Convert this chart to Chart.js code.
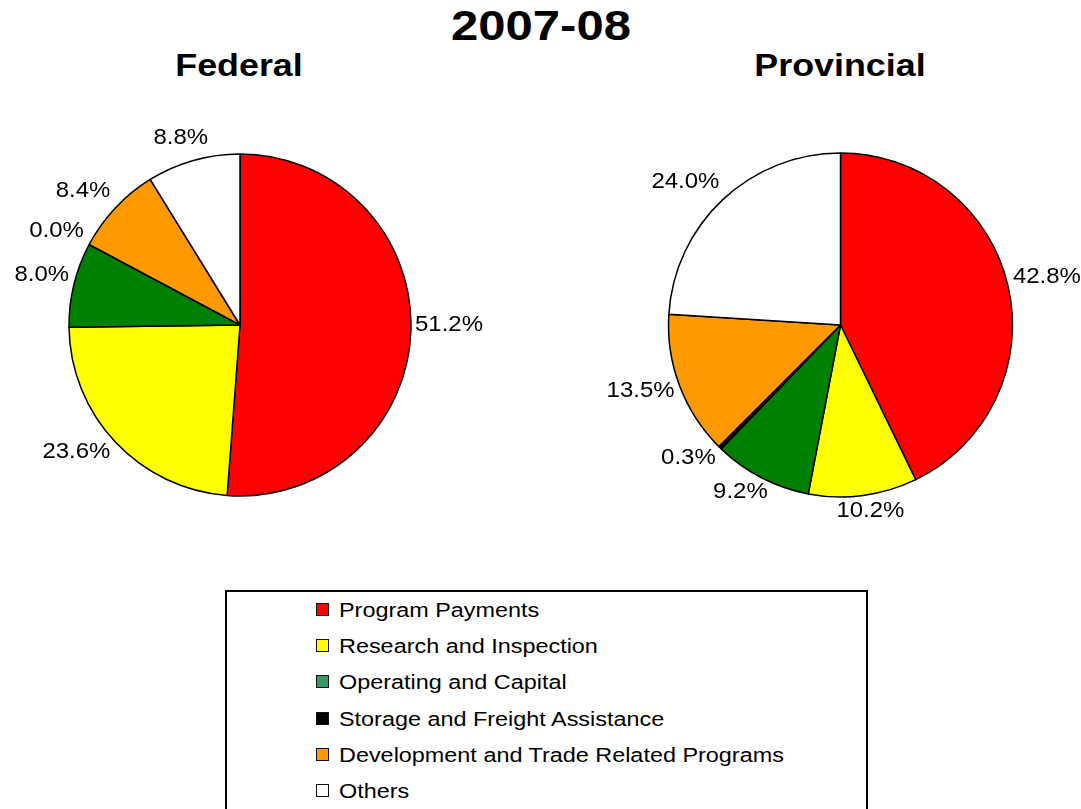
<!DOCTYPE html>
<html>
<head>
<meta charset="utf-8">
<title>2007-08</title>
<script src="https://cdn.jsdelivr.net/npm/chart.js@4/dist/chart.umd.min.js"></script>
<style>
  body { margin: 0; background: #fff; width: 1081px; height: 809px; overflow: hidden; position: relative;
         font-family: "Liberation Sans", Arial, sans-serif; color: #000; }
  .title { position: absolute; font-weight: bold; white-space: nowrap; line-height: 1; }
  canvas { position: absolute; }
  #legend { position: absolute; left: 225px; top: 590px; width: 639px; height: 260px; border: 2px solid #000; }
  #legend .swatch { position: absolute; left: 89px; width: 11px; height: 11px; border: 1.5px solid #111; }
  #legend .label { position: absolute; left: 112px; font-size: 20px; line-height: 20px; white-space: nowrap;
                   transform: scaleX(1.17); transform-origin: left center; }
</style>
</head>
<body>
<div class="title" style="left:541px; top:4px; font-size:43px; transform: translateX(-50%) scaleX(1.14);">2007-08</div>
<div class="title" style="left:239px; top:49px; font-size:32px; transform: translateX(-50%) scaleX(1.12);">Federal</div>
<div class="title" style="left:840px; top:49px; font-size:32px; transform: translateX(-50%) scaleX(1.12);">Provincial</div>

<canvas id="federal" width="560" height="460" style="left:0px; top:95px;"></canvas>
<canvas id="provincial" width="521" height="460" style="left:560px; top:95px;"></canvas>
<div id="legend"></div>

<script>
// categories and shares (%)
var categories = ['Program Payments', 'Research and Inspection', 'Operating and Capital',
                  'Storage and Freight Assistance', 'Development and Trade Related Programs', 'Others'];
var federalShares = [51.2, 23.6, 8.0, 0.0, 8.4, 8.8];
var provincialShares = [42.8, 10.2, 9.2, 0.3, 13.5, 24.0];

var sliceColors = ['#FF0000', '#FFFF00', '#008000', '#000000', '#FF9900', '#FFFFFF'];
var legendColors = ['#FF0000', '#FFFF00', '#339966', '#000000', '#FF9900', '#FFFFFF'];

var LABEL_FONT = '22px "Liberation Sans", Arial, sans-serif';
var LABEL_STRETCH = 1.09;

// percentage labels placed just outside each slice
var pctLabels = {
  id: 'pctLabels',
  afterDatasetsDraw: function(chart) {
    var ctx = chart.ctx;
    var meta = chart.getDatasetMeta(0);
    var values = chart.data.datasets[0].data;
    ctx.save();
    ctx.font = LABEL_FONT;
    ctx.fillStyle = '#000';
    ctx.textAlign = 'center';
    ctx.textBaseline = 'middle';
    meta.data.forEach(function(arc, i) {
      var p = arc.getProps(['x', 'y', 'startAngle', 'endAngle', 'outerRadius'], true);
      var mid = (p.startAngle + p.endAngle) / 2;
      var cos = Math.cos(mid), sin = Math.sin(mid);
      var text = values[i].toFixed(1) + '%';
      var w = ctx.measureText(text).width * LABEL_STRETCH;
      var h = 16;
      var r = p.outerRadius + 4 + 4 * Math.abs(sin);
      var cx = p.x + cos * r + Math.sign(cos) * Math.min(1, Math.abs(cos) * 1.4) * w / 2;
      var cy = p.y + sin * r + sin * h / 2;
      if (sin < 0.1) cy -= 7; // upper labels sit a little higher
      ctx.save();
      ctx.translate(cx, cy);
      ctx.scale(LABEL_STRETCH, 1);
      ctx.fillText(text, 0, 0);
      ctx.restore();
    });
    ctx.restore();
  }
};

function makePie(id, shares, radius, padding) {
  return new Chart(document.getElementById(id), {
    type: 'pie',
    data: {
      labels: categories,
      datasets: [{
        data: shares,
        backgroundColor: sliceColors,
        borderColor: '#000',
        borderWidth: 1.5
      }]
    },
    options: {
      responsive: false,
      animation: false,
      radius: radius,
      layout: { padding: padding },
      plugins: {
        legend: { display: false },
        tooltip: { enabled: false }
      }
    },
    plugins: [pctLabels]
  });
}

makePie('federal', federalShares, 171, { right: 80 });
makePie('provincial', provincialShares, 172, { left: 40 });

// shared legend box
var legend = document.getElementById('legend');
categories.forEach(function(name, i) {
  var sw = document.createElement('div');
  sw.className = 'swatch';
  sw.style.top = (11 + i * 36.2) + 'px';
  sw.style.background = legendColors[i];
  legend.appendChild(sw);
  var lb = document.createElement('div');
  lb.className = 'label';
  lb.style.top = (8 + i * 36.2) + 'px';
  lb.textContent = name;
  legend.appendChild(lb);
});
</script>
</body>
</html>
